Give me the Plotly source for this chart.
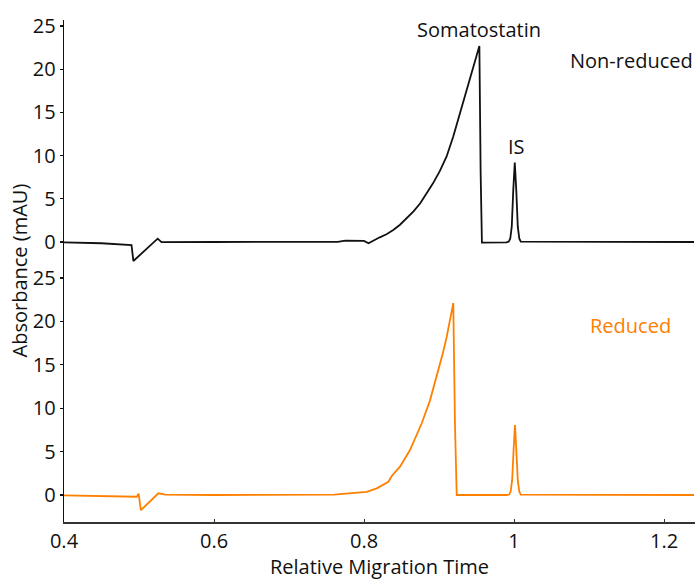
import plotly.graph_objects as go

# ---- data ----
x_nonreduced = [0.400, 0.450, 0.490, 0.4925, 0.5249, 0.530, 0.600, 0.700, 0.765, 0.775,
                0.795, 0.800, 0.806, 0.812, 0.821, 0.830, 0.839, 0.848, 0.857, 0.866,
                0.875, 0.883, 0.892, 0.901, 0.910, 0.919, 0.928, 0.935, 0.941, 0.948,
                0.9538, 0.9555, 0.9572, 0.990, 0.993, 0.995, 0.997, 0.999, 1.001, 1.003,
                1.005, 1.007, 1.009, 1.240]
y_nonreduced = [-0.05, -0.15, -0.35, -2.20, 0.38, -0.02, 0.00, 0.00, 0.02, 0.15,
                0.18, 0.12, -0.15, 0.15, 0.54, 0.90, 1.39, 2.00, 2.74, 3.55,
                4.48, 5.55, 6.79, 8.20, 9.87, 12.20, 14.90, 17.10, 19.10, 20.90,
                22.70, 8.00, -0.08, -0.05, 0.05, 0.40, 1.80, 6.00, 9.20, 6.00,
                1.80, 0.40, 0.05, 0.00]

x_reduced = [0.400, 0.450, 0.497, 0.4995, 0.5015, 0.5025, 0.5258, 0.535, 0.600, 0.700,
             0.760, 0.795, 0.8036, 0.817, 0.8324, 0.837, 0.848, 0.8613, 0.869, 0.877,
             0.888, 0.8935, 0.899, 0.905, 0.9102, 0.915, 0.919, 0.9213, 0.9236, 0.990,
             0.9935, 0.9955, 0.9975, 0.9995, 1.0013, 1.0030, 1.0050, 1.0070, 1.0090, 1.240]
y_reduced = [-0.05, -0.10, -0.20, 0.15, -1.70, -1.75, 0.20, 0.05, 0.00, 0.00,
             0.05, 0.30, 0.35, 0.77, 1.53, 2.19, 3.26, 5.18, 6.60, 8.26,
             10.90, 12.60, 14.40, 16.30, 18.20, 20.20, 22.10, 8.00, 0.00, 0.00,
             0.05, 0.40, 1.70, 5.30, 8.06, 5.30, 1.70, 0.40, 0.05, 0.00]

y_tickvals = [0, 5, 10, 15, 20, 25]
x_tickvals = [0.4, 0.6, 0.8, 1.0, 1.2]
x_ticktext = ["0.4", "0.6", "0.8", "1", "1.2"]

BLACK = "#111111"
ORANGE = "#FF8000"
FONT = "Open Sans"
FS = 20

fig = go.Figure()
fig.add_trace(go.Scatter(x=x_nonreduced, y=y_nonreduced, mode="lines",
                         line=dict(color=BLACK, width=1.8), xaxis="x", yaxis="y2",
                         showlegend=False, hoverinfo="skip"))
fig.add_trace(go.Scatter(x=x_reduced, y=y_reduced, mode="lines",
                         line=dict(color=ORANGE, width=1.8), xaxis="x", yaxis="y",
                         showlegend=False, hoverinfo="skip"))

yax_common = dict(showline=True, linecolor=BLACK, linewidth=1.3, ticks="outside",
                  ticklen=3, tickwidth=1.2, tickcolor=BLACK, tickvals=y_tickvals,
                  showgrid=False, zeroline=False,
                  tickfont=dict(family=FONT, size=FS, color=BLACK))

fig.update_layout(
    width=695, height=580,
    margin=dict(l=64, r=0, t=20, b=58),
    paper_bgcolor="white", plot_bgcolor="white",
    xaxis=dict(range=[0.4, 1.2413], anchor="y", showline=True, linecolor="#333333",
               linewidth=1.5, ticks="inside", ticklen=3, tickcolor="#333333",
               tickvals=x_tickvals, ticktext=x_ticktext, showgrid=False, zeroline=False,
               tickfont=dict(family=FONT, size=FS, color=BLACK),
               title=dict(text="Relative Migration Time", standoff=2,
                          font=dict(family=FONT, size=FS, color=BLACK))),
    yaxis=dict(domain=[0, 0.5], range=[-3.11, 25.8], anchor="x", **yax_common),
    yaxis2=dict(domain=[0.5, 1], range=[-3.36, 25.7], anchor="x", **yax_common),
    annotations=[
        dict(text="Absorbance (mAU)", xref="paper", yref="paper", x=-0.069, y=0.502,
             textangle=-90, showarrow=False, xanchor="center", yanchor="middle",
             font=dict(family=FONT, size=FS, color=BLACK)),
        dict(text="Somatostatin", xref="x", yref="y2", x=0.9533, y=24.65,
             showarrow=False, xanchor="center", yanchor="middle",
             font=dict(family=FONT, size=FS, color=BLACK)),
        dict(text="Non-reduced", xref="x", yref="y2", x=1.156, y=21.06,
             showarrow=False, xanchor="center", yanchor="middle",
             font=dict(family=FONT, size=FS, color=BLACK)),
        dict(text="IS", xref="x", yref="y2", x=1.0027, y=11.1,
             showarrow=False, xanchor="center", yanchor="middle",
             font=dict(family=FONT, size=FS, color=BLACK)),
        dict(text="Reduced", xref="x", yref="y", x=1.1547, y=19.47,
             showarrow=False, xanchor="center", yanchor="middle",
             font=dict(family=FONT, size=FS, color=ORANGE)),
    ],
)

fig.write_html(
    "out.html",
    config={"displayModeBar": False, "staticPlot": True},
    post_script="document.body.style.margin='0';document.body.style.overflow='hidden';",
)
